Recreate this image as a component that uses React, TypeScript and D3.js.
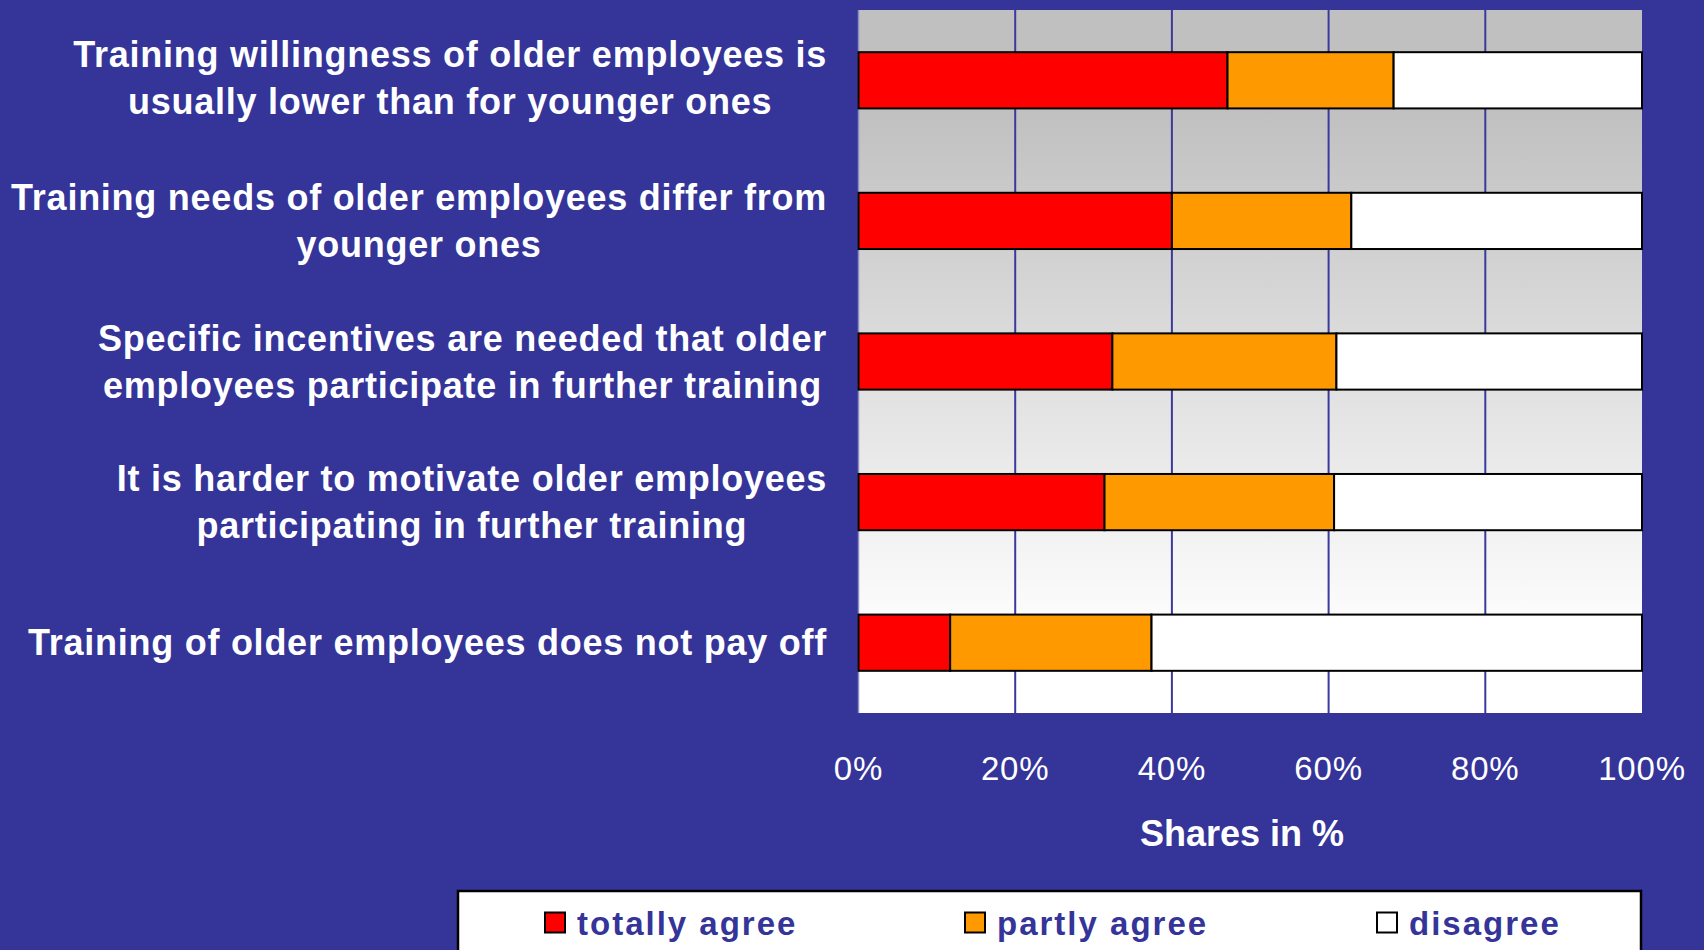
import * as d3 from "d3";
import { useEffect, useRef } from "react";

const categories = [
  ["Training willingness of older employees is", "usually lower than for younger ones"],
  ["Training needs of older employees differ from", "younger ones"],
  ["Specific incentives are needed that older", "employees participate in further training"],
  ["It is harder to motivate older employees", "participating in further training"],
  ["Training of older employees does not pay off"],
];
const totallyAgree = [47.1, 40.0, 32.4, 31.4, 11.7];
const partlyAgree = [21.2, 22.9, 28.6, 29.3, 25.7];
const disagree = [31.7, 37.1, 39.0, 39.3, 62.6];
const seriesNames = ["totally agree", "partly agree", "disagree"];
const seriesColors = ["#ff0000", "#ff9900", "#ffffff"];
const tickValues = [0, 20, 40, 60, 80, 100];
const axisTitle = "Shares in %";

const W = 1704;
const H = 950;
const BG = "#343499";
const FONT = "'Liberation Sans', Arial, sans-serif";

export default function App() {
  const ref = useRef<SVGSVGElement>(null);

  useEffect(() => {
    if (!ref.current) return;
    const svg = d3.select(ref.current);
    svg.selectAll("*").remove();

    const plot = { left: 858.5, right: 1642, top: 10, bottom: 713 };
    const x = d3.scaleLinear().domain([0, 100]).range([plot.left, plot.right]);
    const y = d3
      .scaleBand<number>()
      .domain(d3.range(categories.length))
      .range([plot.top, plot.bottom])
      .paddingInner(0.6)
      .paddingOuter(0.3);

    const rows = categories.map((_, i) => ({
      [seriesNames[0]]: totallyAgree[i],
      [seriesNames[1]]: partlyAgree[i],
      [seriesNames[2]]: disagree[i],
    }));
    const stacked = d3.stack<Record<string, number>>().keys(seriesNames)(rows);

    svg.append("rect").attr("width", W).attr("height", H).attr("fill", BG);

    // plot background: grey at the top fading to white near the bottom
    const grad = svg
      .append("defs")
      .append("linearGradient")
      .attr("id", "plotbg")
      .attr("x1", 0)
      .attr("y1", 0)
      .attr("x2", 0)
      .attr("y2", 1);
    grad.append("stop").attr("offset", "14%").attr("stop-color", "#c0c0c0");
    grad.append("stop").attr("offset", "90%").attr("stop-color", "#ffffff");

    svg
      .append("rect")
      .attr("x", plot.left)
      .attr("y", plot.top)
      .attr("width", plot.right - plot.left)
      .attr("height", plot.bottom - plot.top)
      .attr("fill", "url(#plotbg)");

    // gridlines
    svg
      .append("g")
      .selectAll("line")
      .data(tickValues.filter(t => t < 100))
      .join("line")
      .attr("x1", d => x(d))
      .attr("x2", d => x(d))
      .attr("y1", plot.top)
      .attr("y2", plot.bottom)
      .attr("stroke", d => (d === 0 ? "#8c8cc4" : "#3a3a9e"))
      .attr("stroke-width", d => (d === 0 ? 1.5 : 2));

    // bars
    svg
      .append("g")
      .selectAll("g")
      .data(stacked)
      .join("g")
      .attr("fill", (_, i) => seriesColors[i])
      .selectAll("rect")
      .data(d => d.map((v, i) => ({ v, i })))
      .join("rect")
      .attr("x", d => x(d.v[0]))
      .attr("width", d => x(d.v[1]) - x(d.v[0]))
      .attr("y", d => y(d.i)!)
      .attr("height", y.bandwidth())
      .attr("stroke", "#000")
      .attr("stroke-width", 2);

    // category labels, centred lines in a right-aligned block
    const labelRight = 827;
    const lineH = 47;
    categories.forEach((lines, i) => {
      const cy = y(i)! + y.bandwidth() / 2;
      const t = svg
        .append("text")
        .attr("fill", "#fff")
        .attr("font-family", FONT)
        .attr("font-weight", "bold")
        .attr("font-size", 36)
        .attr("letter-spacing", 0.75)
        .attr("text-anchor", "middle");
      const spans = lines.map((line, j) =>
        t
          .append("tspan")
          .attr("y", cy + 12.5 + (j - (lines.length - 1) / 2) * lineH - (i === 0 ? 2 : 0))
          .text(line)
      );
      const maxW = d3.max(spans, s => (s.node() as SVGTSpanElement).getComputedTextLength()) || 0;
      spans.forEach(s => s.attr("x", labelRight - maxW / 2));
    });

    // x tick labels
    svg
      .append("g")
      .selectAll("text")
      .data(tickValues)
      .join("text")
      .attr("x", d => x(d))
      .attr("y", 780)
      .attr("text-anchor", "middle")
      .attr("fill", "#fff")
      .attr("font-family", FONT)
      .attr("font-size", 33)
      .attr("letter-spacing", 0.8)
      .text(d => `${d}%`);

    svg
      .append("text")
      .attr("x", 1242)
      .attr("y", 846)
      .attr("text-anchor", "middle")
      .attr("fill", "#fff")
      .attr("font-family", FONT)
      .attr("font-weight", "bold")
      .attr("font-size", 36)
      .text(axisTitle);

    // legend
    svg
      .append("rect")
      .attr("x", 458)
      .attr("y", 891)
      .attr("width", 1641 - 458)
      .attr("height", 80)
      .attr("fill", "#fff")
      .attr("stroke", "#000")
      .attr("stroke-width", 2.5);

    const legendX = [545, 965, 1377];
    const items = svg
      .append("g")
      .selectAll("g")
      .data(seriesNames)
      .join("g")
      .attr("transform", (_, i) => `translate(${legendX[i]},912.5)`);
    items
      .append("rect")
      .attr("width", 20)
      .attr("height", 20)
      .attr("fill", (_, i) => seriesColors[i])
      .attr("stroke", "#000")
      .attr("stroke-width", 2);
    items
      .append("text")
      .attr("x", 32)
      .attr("y", 22.5)
      .attr("fill", BG)
      .attr("font-family", FONT)
      .attr("font-weight", "bold")
      .attr("font-size", 33)
      .attr("letter-spacing", 2)
      .text(d => d);
  }, []);

  return (
    <>
      <style>{`body{margin:0;background:${BG};overflow:hidden}`}</style>
      <svg ref={ref} width={W} height={H} style={{ display: "block" }} />
    </>
  );
}
